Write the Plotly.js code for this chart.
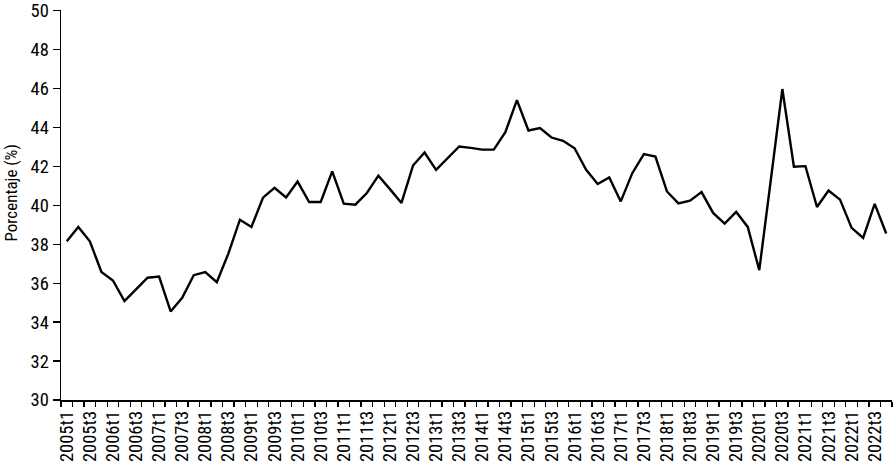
<!DOCTYPE html>
<html><head><meta charset="utf-8">
<script src="https://cdn.plot.ly/plotly-3.0.1.min.js"></script>
<style>html,body{margin:0;padding:0;background:#fff}</style>
</head><body><div id="chart" style="width:893px;height:462px"></div>
<script>
const quarters = [
 "2005t1","2005t2","2005t3","2005t4","2006t1","2006t2","2006t3","2006t4",
 "2007t1","2007t2","2007t3","2007t4","2008t1","2008t2","2008t3","2008t4",
 "2009t1","2009t2","2009t3","2009t4","2010t1","2010t2","2010t3","2010t4",
 "2011t1","2011t2","2011t3","2011t4","2012t1","2012t2","2012t3","2012t4",
 "2013t1","2013t2","2013t3","2013t4","2014t1","2014t2","2014t3","2014t4",
 "2015t1","2015t2","2015t3","2015t4","2016t1","2016t2","2016t3","2016t4",
 "2017t1","2017t2","2017t3","2017t4","2018t1","2018t2","2018t3","2018t4",
 "2019t1","2019t2","2019t3","2019t4","2020t1","2020t2","2020t3","2020t4",
 "2021t1","2021t2","2021t3","2021t4","2022t1","2022t2","2022t3","2022t4"
];
const values = [
 38.15,38.89,38.15,36.58,36.14,35.08,35.68,36.28,
 36.34,34.55,35.25,36.41,36.57,36.05,37.52,39.26,
 38.89,40.39,40.90,40.40,41.22,40.17,40.17,41.74,
 40.08,40.03,40.63,41.52,40.83,40.12,42.04,42.71,
 41.82,42.42,43.02,42.95,42.86,42.86,43.75,45.40,
 43.84,43.97,43.48,43.31,42.93,41.82,41.09,41.43,
 40.20,41.65,42.63,42.50,40.71,40.10,40.24,40.68,
 39.61,39.06,39.66,38.89,36.67,41.30,45.97,41.98,
 42.01,39.91,40.76,40.29,38.84,38.33,40.07,38.55
];
const tickLabels = [
 "2005t1","","2005t3","","2006t1","","2006t3","",
 "2007t1","","2007t3","","2008t1","","2008t3","",
 "2009t1","","2009t3","","2010t1","","2010t3","",
 "2011t1","","2011t3","","2012t1","","2012t3","",
 "2013t1","","2013t3","","2014t1","","2014t3","",
 "2015t1","","2015t3","","2016t1","","2016t3","",
 "2017t1","","2017t3","","2018t1","","2018t3","",
 "2019t1","","2019t3","","2020t1","","2020t3","",
 "2021t1","","2021t3","","2022t1","","2022t3",""
];
const yTicks = [30, 32, 34, 36, 38, 40, 42, 44, 46, 48, 50];
const yTitle = "Porcentaje (%)";
const font = "'Roboto Condensed', 'PT Sans Narrow', sans-serif";

Plotly.newPlot("chart", [{
  type: "scatter", mode: "lines",
  x: quarters, y: values,
  line: {color: "#000", width: 2.4},
  hoverinfo: "skip", cliponaxis: false
}], {
  width: 893, height: 462,
  margin: {l: 61, r: 1, t: 10, b: 62},
  paper_bgcolor: "#fff", plot_bgcolor: "#fff",
  showlegend: false,
  font: {family: font, size: 18, color: "#000"},
  xaxis: {
    type: "category", range: [-0.5, quarters.length - 0.5],
    tickmode: "array", tickvals: quarters, ticktext: tickLabels,
    tickson: "boundaries", ticks: "outside", ticklen: 5, tickwidth: 1.3, tickcolor: "#000",
    tickangle: -90, tickfont: {family: font, size: 18.5, color: "#000"},
    ticklabelstandoff: 2,
    showline: true, linecolor: "#000", linewidth: 1.5,
    showgrid: false, zeroline: false, automargin: false
  },
  yaxis: {
    range: [30, 50.03], tickmode: "array", tickvals: yTicks,
    ticks: "outside", ticklen: 7, tickwidth: 1.3, tickcolor: "#000",
    tickfont: {family: font, size: 18.5, color: "#000"},
    showline: true, linecolor: "#000", linewidth: 1.5,
    showgrid: false, zeroline: false, automargin: false
  },
  annotations: [{
    text: yTitle, xref: "paper", yref: "paper",
    x: 0, xanchor: "center", xshift: -50,
    y: 0.5295, yanchor: "middle",
    textangle: -90, showarrow: false,
    font: {family: font, size: 17, color: "#000"}
  }]
}, {staticPlot: true, displayModeBar: false});
</script></body></html>
